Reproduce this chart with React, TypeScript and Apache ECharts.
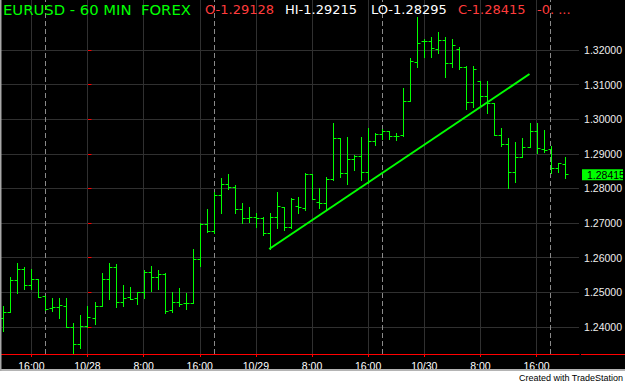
import React, { useEffect, useRef } from "react";
import * as echarts from "echarts";

// hours relative to 10/28 00:00; first bar is 10/27 12:00, one bar per hour
const START_HOUR = -12;

const opens = [
  1.24251, 1.24425, 1.25357, 1.25675, 1.25204, 1.25386, 1.24895, 1.2454, 1.24578, 1.24615,
  1.24009, 1.23509, 1.24029, 1.24251, 1.24615, 1.25386, 1.25742, 1.24722, 1.24858, 1.24829,
  1.2502, 1.2558, 1.25435, 1.25522, 1.24491, 1.24713, 1.24684, 1.24684, 1.25955, 1.26975,
  1.26773, 1.27812, 1.28121, 1.28035, 1.27399, 1.27139, 1.27168, 1.27139, 1.26706, 1.27186,
  1.27474, 1.26879, 1.27495, 1.27428, 1.2841, 1.27619, 1.2759, 1.28266, 1.2945, 1.28456,
  1.28852, 1.28947, 1.28485, 1.29372, 1.29574, 1.29669, 1.29516, 1.29545, 1.30536, 1.31662,
  1.32269, 1.32269, 1.32029, 1.32289, 1.31633, 1.32029, 1.31518, 1.3049, 1.31105, 1.3068,
  1.30478, 1.29545, 1.29277, 1.28468, 1.28901, 1.29207, 1.29661, 1.29132, 1.29128, 1.28583,
  1.28708,
];
const highs = [
  1.24615, 1.25453, 1.2584, 1.25742, 1.25675, 1.25386, 1.24895, 1.24829, 1.24829, 1.24846,
  1.24107, 1.24347, 1.24607, 1.24713, 1.25551, 1.25857, 1.25811, 1.25204, 1.25164, 1.2502,
  1.25646, 1.25762, 1.25646, 1.25551, 1.2502, 1.25135, 1.24973, 1.26253, 1.27012, 1.27408,
  1.2789, 1.28312, 1.28419, 1.28101, 1.27573, 1.27474, 1.27284, 1.27168, 1.27284, 1.27908,
  1.27474, 1.27717, 1.27763, 1.28439, 1.2841, 1.28006, 1.28341, 1.29883, 1.29467, 1.29496,
  1.28968, 1.29496, 1.29756, 1.29594, 1.29718, 1.29669, 1.29612, 1.30911, 1.3176, 1.32962,
  1.32309, 1.32367, 1.32529, 1.32367, 1.32309, 1.32078, 1.31538, 1.31538, 1.31113, 1.31113,
  1.30478, 1.29739, 1.29467, 1.29352, 1.2945, 1.299, 1.299, 1.2969, 1.29215, 1.28745,
  1.28918,
];
const lows = [
  1.23893, 1.24425, 1.24991, 1.25089, 1.25106, 1.24875, 1.24482, 1.24471, 1.24269, 1.23991,
  1.23258, 1.23385, 1.24009, 1.24078, 1.24607, 1.248, 1.24586, 1.24615, 1.248, 1.24656,
  1.24829, 1.25048, 1.25089, 1.24413, 1.24442, 1.24615, 1.2452, 1.24684, 1.2577, 1.26752,
  1.26706, 1.27284, 1.27977, 1.27284, 1.27012, 1.27041, 1.26879, 1.26657, 1.26253, 1.26868,
  1.26801, 1.26859, 1.27284, 1.27379, 1.27688, 1.27428, 1.27399, 1.28246, 1.28341, 1.2813,
  1.28534, 1.28246, 1.2815, 1.29256, 1.29421, 1.29421, 1.29401, 1.29525, 1.30527, 1.31518,
  1.31807, 1.31789, 1.31905, 1.31229, 1.315, 1.31443, 1.30287, 1.30363, 1.30412, 1.30172,
  1.29545, 1.29228, 1.28023, 1.28196, 1.28901, 1.29207, 1.29034, 1.29063, 1.28456, 1.28485,
  1.28295,
];
const closes = [
  1.24425, 1.25357, 1.25675, 1.25204, 1.25386, 1.24875, 1.24511, 1.24578, 1.24635, 1.23991,
  1.23509, 1.24029, 1.2428, 1.24615, 1.25386, 1.25742, 1.24722, 1.24846, 1.24809, 1.25002,
  1.2558, 1.25435, 1.25522, 1.24471, 1.24731, 1.24664, 1.24684, 1.25955, 1.26975, 1.26773,
  1.27812, 1.28121, 1.28035, 1.27399, 1.27139, 1.27168, 1.27139, 1.26706, 1.27186, 1.27503,
  1.26879, 1.27688, 1.27466, 1.2841, 1.27688, 1.2759, 1.28266, 1.2945, 1.28456, 1.28852,
  1.28947, 1.28485, 1.29372, 1.29574, 1.29669, 1.29516, 1.29516, 1.30536, 1.31691, 1.32194,
  1.32269, 1.32049, 1.32289, 1.31633, 1.32144, 1.31518, 1.3049, 1.31443, 1.3068, 1.30478,
  1.29545, 1.29277, 1.28468, 1.28901, 1.29207, 1.29661, 1.29161, 1.29112, 1.28583, 1.28728,
  1.28415,
];

const tickHours = [-8, 0, 8, 16, 24, 32, 40, 48, 56, 64];
const tickLabels = ["16:00", "10/28", "8:00", "16:00", "10/29", "8:00", "16:00", "10/30", "8:00", "16:00"];
const sessionHours = [-6, 18, 42, 66];
const priceTicks = [1.24, 1.25, 1.26, 1.27, 1.28, 1.29, 1.3, 1.31, 1.32];
const trendLine = [
  [25.9, 1.26253],
  [63.0, 1.31307],
];
const lastPrice = 1.28415;
const header = [
  { text: "EURUSD - 60 MIN  FOREX", color: "#00ff00" },
  { text: "O-1.29128", color: "#ff3c3c" },
  { text: "HI-1.29215", color: "#ffffff" },
  { text: "LO-1.28295", color: "#ffffff" },
  { text: "C-1.28415", color: "#ff3c3c" },
  { text: "-0.00713", color: "#ff3c3c" },
];
const headerX = [3, 205, 285, 371, 458, 537];
const headerSize = [14.8, 13, 13, 13, 13, 13];

const GREEN = "#00ff00";
const RED = "#ff0000";
const GRID = "#303030";

export default function App() {
  const ref = useRef<HTMLDivElement>(null);
  useEffect(() => {
    if (!ref.current) return;
    const chart = echarts.init(ref.current, null, { renderer: "svg" });
    const bars = opens.map((o, i) => [START_HOUR + i, o, highs[i], lows[i], closes[i]]);

    const gridMarks = [
      ...tickHours.map((h) => ({ xAxis: h, lineStyle: { color: GRID, type: "solid", width: 1 } })),
      ...sessionHours.map((h) => ({ xAxis: h, lineStyle: { color: "#8a8a8a", type: [5, 3], width: 1 } })),
    ];

    chart.setOption({
      animation: false,
      backgroundColor: "#000000",
      grid: { left: 0, right: 44, top: 0, bottom: 29, containLabel: false },
      xAxis: {
        type: "value",
        min: -12.47,
        max: 70.06,
        axisLine: { show: true, lineStyle: { color: RED, width: 1 } },
        axisTick: { show: true, length: 3, lineStyle: { color: RED }, customValues: tickHours },
        axisLabel: {
          customValues: tickHours,
          color: "#ffffff",
          fontSize: 10.5,
          fontFamily: "Liberation Sans",
          margin: 6,
          formatter: (v: number) => {
            const i = tickHours.indexOf(Math.round(v));
            return i >= 0 ? tickLabels[i] : "";
          },
        },
        splitLine: { show: false },
      },
      yAxis: {
        type: "value",
        position: "right",
        min: 1.2322,
        max: 1.33444,
        axisLine: { show: true, lineStyle: { color: RED, width: 1 } },
        axisTick: { show: true, length: 4, lineStyle: { color: RED }, customValues: priceTicks },
        axisLabel: {
          customValues: priceTicks,
          color: "#eeeeee",
          fontSize: 10.5,
          fontFamily: "Liberation Sans",
          margin: 5,
          formatter: (v: number) => v.toFixed(5),
        },
        splitLine: { show: true, lineStyle: { color: GRID, width: 1 } },
      },
      series: [
        {
          type: "line",
          data: trendLine,
          symbol: "none",
          silent: true,
          lineStyle: { opacity: 0, width: 0 },
          z: 1,
          markLine: {
            z: 1,
            silent: true,
            symbol: ["none", "none"],
            label: { show: false },
            data: gridMarks,
          },
        },
        {
          type: "custom",
          data: bars,
          encode: { x: 0, y: [1, 2, 3, 4] },
          clip: true,
          z: 6,
          renderItem: (params: any, api: any) => {
            const x = api.value(0);
            const pO = api.coord([x, api.value(1)]);
            const pH = api.coord([x, api.value(2)]);
            const pL = api.coord([x, api.value(3)]);
            const pC = api.coord([x, api.value(4)]);
            const cx = Math.round(pH[0]) + 0.5;
            const yO = Math.round(pO[1]) + 0.5;
            const yC = Math.round(pC[1]) + 0.5;
            const style = { stroke: GREEN, lineWidth: 1 };
            return {
              type: "group",
              children: [
                { type: "line", shape: { x1: cx, y1: Math.round(pH[1]), x2: cx, y2: Math.round(pL[1]) + 1 }, style },
                { type: "line", shape: { x1: cx - 3, y1: yO, x2: cx, y2: yO }, style },
                { type: "line", shape: { x1: cx, y1: yC, x2: cx + 3, y2: yC }, style },
              ],
            };
          },
        },
        {
          type: "line",
          data: trendLine,
          symbol: "none",
          silent: true,
          lineStyle: { color: GREEN, width: 2 },
          z: 7,
        },
      ],
    });

    const py = chart.convertToPixel({ yAxisIndex: 0 }, lastPrice) as number;
    const graphics: any[] = [];
    header.forEach((h, i) => {
      graphics.push({
        type: "text",
        x: headerX[i],
        y: 9.5,
        z: 10,
        style: {
          text: h.text,
          fill: h.color,
          font: `${headerSize[i]}px 'DejaVu Sans'`,
          verticalAlign: "middle",
          align: "left",
          ...(i === header.length - 1 ? { width: 38, overflow: "truncate", ellipsis: " ..." } : {}),
        },
      });
    });
    graphics.push(
      { type: "line", z: 10, shape: { x1: 581, y1: 354.5, x2: 625, y2: 354.5 }, style: { stroke: RED, lineWidth: 1 } },
      { type: "rect", z: 10, shape: { x: 582, y: py - 5, width: 41, height: 11 }, style: { fill: GREEN } },
      {
        type: "text",
        z: 11,
        x: 587,
        y: py + 0.5,
        style: { text: lastPrice.toFixed(5), fill: "#000000", font: "10.5px 'Liberation Sans'", verticalAlign: "middle" },
      },
      { type: "rect", z: 10, shape: { x: 0, y: 369, width: 625, height: 14 }, style: { fill: "#ffffff" } },
      { type: "rect", z: 11, shape: { x: 0, y: 369, width: 625, height: 2 }, style: { fill: "#b4b4b4" } },
      { type: "rect", z: 11, shape: { x: 0, y: 0, width: 1.5, height: 371 }, style: { fill: "#a8a8a8" } },
      {
        type: "text",
        z: 11,
        x: 623,
        y: 377.5,
        style: {
          text: "Created with TradeStation",
          fill: "#000000",
          font: "9px 'Liberation Sans'",
          align: "right",
          verticalAlign: "middle",
        },
      }
    );
    chart.setOption({ graphic: graphics });

    return () => chart.dispose();
  }, []);

  return (
    <div
      ref={ref}
      style={{ position: "fixed", left: 0, top: 0, width: 625, height: 383, background: "#ffffff" }}
    />
  );
}
